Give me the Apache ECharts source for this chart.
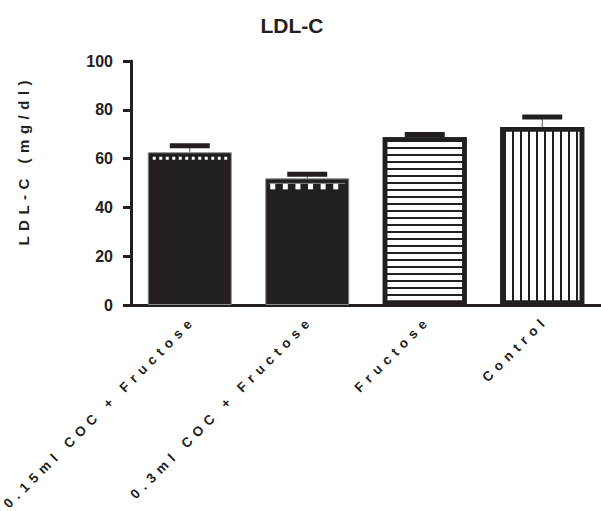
<!DOCTYPE html>
<html><head><meta charset="utf-8">
<script src="https://cdn.jsdelivr.net/npm/echarts@6/dist/echarts.min.js"></script>
<style>html,body{margin:0;padding:0;background:#fff}#c{width:601px;height:511px}</style>
</head><body><div id="c"></div>
<script>
// ---- data ----
const categories = ['0.15ml COC + Fructose', '0.3ml COC + Fructose', 'Fructose', 'Control'];
const means = [62.6, 51.9, 68.8, 72.9];
const sems = [2.7, 1.7, 1.1, 4.2];
const yTickValues = [0, 20, 40, 60, 80, 100];
const chartTitle = 'LDL-C';
const yAxisName = 'LDL-C (mg/dl)';

// ---- styling ----
const DARK = '#231f20';
const FONT = '"Liberation Sans", Arial, sans-serif';
const BAR_W = 84;
const X_SPACING = 5.6, Y_SPACING = 5.5;
const dashRows = { 0: {off: 4.5, h: 3, period: 6.5, w: 3}, 1: {off: 5, h: 6, period: 12.6, w: 5} };

const barData = means.map((v, i) => {
  if (i < 2) return {value: v, itemStyle: {color: DARK, borderColor: '#8a8a8a', borderWidth: 1}};
  const decal = i === 2
    ? {symbol: 'rect', symbolSize: 1, dashArrayX: [10, 0], dashArrayY: [2, 4.7], color: DARK, rotation: 0}
    : {symbol: 'rect', symbolSize: 1, dashArrayX: [2, 5.6], dashArrayY: [10, 0], color: DARK, rotation: 0};
  return {value: v, itemStyle: {color: '#fff', borderColor: DARK, borderWidth: 4.5, decal: decal}};
});

const chart = echarts.init(document.getElementById('c'), null, {renderer: 'svg'});
chart.setOption({
  animation: false,
  backgroundColor: '#fff',
  grid: {left: 131, top: 61, width: 476, bottom: 206, containLabel: false},
  graphic: [
    {type: 'text', x: 292, y: 25, style: {text: chartTitle, font: 'bold 21px ' + FONT, fill: DARK,
      align: 'center', verticalAlign: 'middle', textAlign: 'center', textVerticalAlign: 'middle'}},
    {type: 'text', x: 23, y: 163, rotation: Math.PI / 2, style: {text: yAxisName, font: 'bold 15px ' + FONT, fill: DARK,
      align: 'center', verticalAlign: 'middle', textAlign: 'center', textVerticalAlign: 'middle'}}
  ],
  xAxis: {
    type: 'category', data: categories,
    axisLine: {lineStyle: {color: DARK, width: 3}},
    axisTick: {alignWithLabel: true, length: 7, lineStyle: {color: DARK, width: 3}},
    axisLabel: {interval: 0, rotate: 45, margin: 17, color: DARK, fontSize: 13.5, fontWeight: 'bold', fontFamily: FONT},
    splitLine: {show: false}
  },
  yAxis: {
    type: 'value', min: yTickValues[0], max: yTickValues[yTickValues.length - 1], interval: yTickValues[1] - yTickValues[0],
    axisLine: {show: true, lineStyle: {color: DARK, width: 3}},
    axisTick: {show: true, length: 8, lineStyle: {color: DARK, width: 3}},
    axisLabel: {margin: 18, color: DARK, fontSize: 16, fontWeight: 'bold', fontFamily: FONT},
    splitLine: {show: false}
  },
  series: [
    {type: 'bar', data: barData, barWidth: BAR_W, z: 2},
    {
      type: 'custom', z: 3, encode: {x: 0, y: 1},
      data: means.map((m, i) => [i, m]).filter(d => dashRows[d[0]]),
      renderItem: (params, api) => {
        const i = api.value(0);
        const cfg = dashRows[i];
        const top = api.coord([i, api.value(1)]);
        const x0 = top[0] - BAR_W / 2 + 4, x1 = top[0] + BAR_W / 2 - 4;
        const y = top[1] + cfg.off;
        const children = [];
        for (let x = x0 + 1; x + cfg.w <= x1; x += cfg.period) {
          children.push({type: 'rect', shape: {x: x, y: y, width: cfg.w, height: cfg.h}, style: {fill: '#fff'}});
        }
        if (i === 1) children.push({type: 'line', shape: {x1: x0, y1: y, x2: x1, y2: y}, style: {stroke: '#888', lineWidth: 1}});
        return {type: 'group', children: children};
      }
    },
    {
      type: 'custom', z: 4, encode: {x: 0, y: 1},
      data: means.map((m, i) => [i, m, sems[i]]),
      renderItem: (params, api) => {
        const i = api.value(0), m = api.value(1), s = api.value(2);
        const pTop = api.coord([i, m]);
        const pCap = api.coord([i, m + s]);
        return {type: 'group', children: [
          {type: 'line', shape: {x1: pCap[0], y1: pTop[1], x2: pCap[0], y2: pCap[1]}, style: {stroke: '#555', lineWidth: 1}},
          {type: 'rect', shape: {x: pCap[0] - 20, y: pCap[1] - 2.5, width: 40, height: 5}, style: {fill: DARK}}
        ]};
      }
    }
  ]
});

// letter-spaced texts (as in the reference); trailing spacing compensated
function applySpacing() {
  const spaced = {};
  categories.forEach(c => spaced[c] = {s: X_SPACING, shift: X_SPACING});
  spaced[yAxisName] = {s: Y_SPACING, shift: Y_SPACING / 2};
  document.querySelectorAll('#c text').forEach(t => {
    const cfg = spaced[t.textContent];
    if (!cfg || t.getAttribute('data-sp')) return;
    t.setAttribute('data-sp', '1');
    t.setAttribute('letter-spacing', cfg.s);
    const tr = t.getAttribute('transform') || '';
    t.setAttribute('transform', (tr + ' translate(' + cfg.shift + ' 0)').trim());
  });
}
chart.getZr().refreshImmediately();
applySpacing();
chart.on('finished', applySpacing);
setTimeout(applySpacing, 50);
</script>
</body></html>
